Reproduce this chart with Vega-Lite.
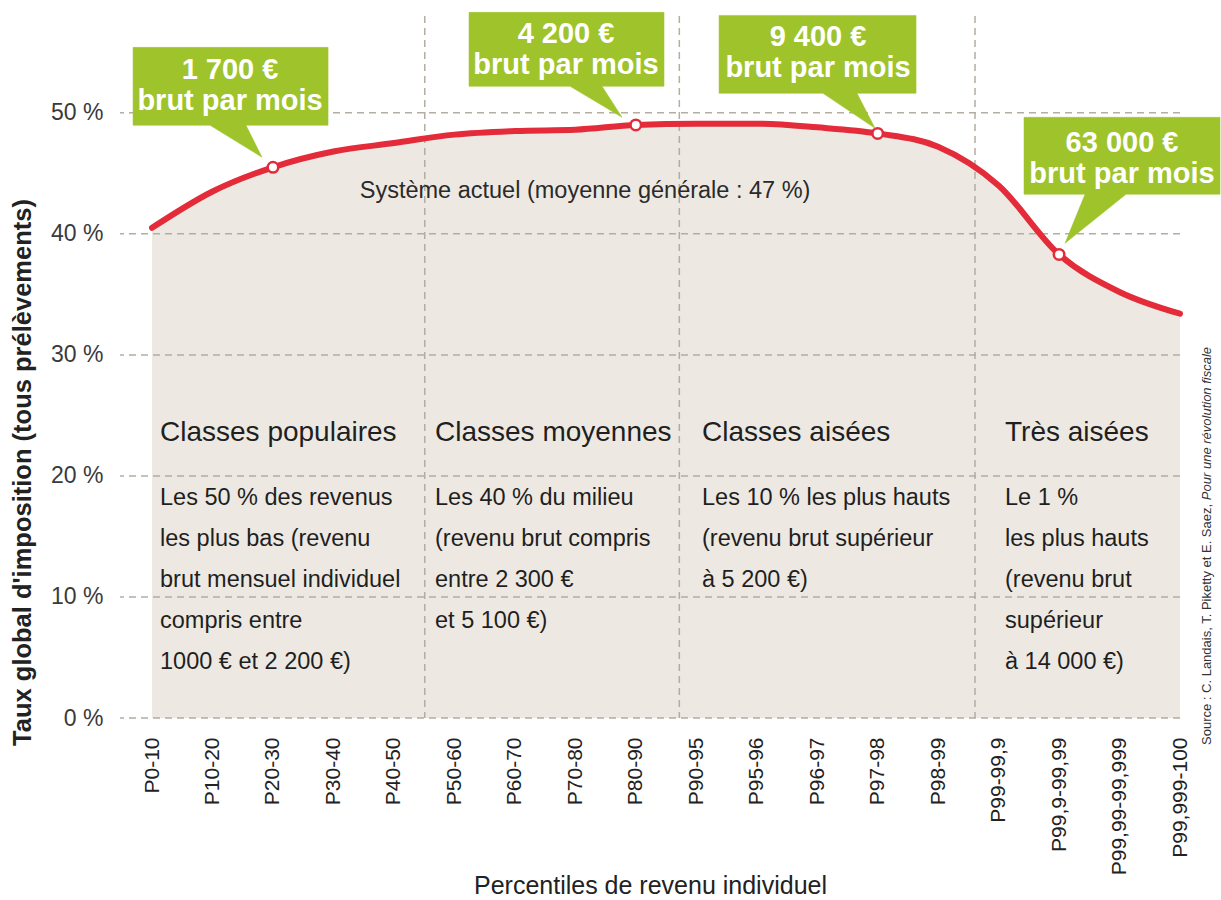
{
  "$schema": "https://vega.github.io/schema/vega-lite/v6.json",
  "width": 1060,
  "height": 702,
  "autosize": {"type": "none"},
  "padding": {"left": 120, "top": 16, "right": 41, "bottom": 182},
  "background": "white",
  "config": {"view": {"stroke": null}, "font": "Liberation Sans"},
  "datasets": {
    "series": [
      {"i": 0, "p": "P0-10", "taux": 40.5, "repere": false},
      {"i": 1, "p": "P10-20", "taux": 43.5, "repere": false},
      {"i": 2, "p": "P20-30", "taux": 45.5, "repere": true},
      {"i": 3, "p": "P30-40", "taux": 46.8, "repere": false},
      {"i": 4, "p": "P40-50", "taux": 47.5, "repere": false},
      {"i": 5, "p": "P50-60", "taux": 48.2, "repere": false},
      {"i": 6, "p": "P60-70", "taux": 48.5, "repere": false},
      {"i": 7, "p": "P70-80", "taux": 48.6, "repere": false},
      {"i": 8, "p": "P80-90", "taux": 49.0, "repere": true},
      {"i": 9, "p": "P90-95", "taux": 49.1, "repere": false},
      {"i": 10, "p": "P95-96", "taux": 49.1, "repere": false},
      {"i": 11, "p": "P96-97", "taux": 48.8, "repere": false},
      {"i": 12, "p": "P97-98", "taux": 48.3, "repere": true},
      {"i": 13, "p": "P98-99", "taux": 47.2, "repere": false},
      {"i": 14, "p": "P99-99,9", "taux": 44.0, "repere": false},
      {"i": 15, "p": "P99,9-99,99", "taux": 38.3, "repere": true},
      {"i": 16, "p": "P99,99-99,999", "taux": 35.2, "repere": false},
      {"i": 17, "p": "P99,999-100", "taux": 33.4, "repere": false}
    ],
    "grille": [{"taux": 0}, {"taux": 10}, {"taux": 20}, {"taux": 30}, {"taux": 40}, {"taux": 50}],
    "separateurs": [{"i": 4.51}, {"i": 8.72}, {"i": 13.61}],
    "moyenne": [{"i": 7.161, "taux": 43.52, "texte": "Système actuel (moyenne générale : 47 %)"}],
    "classes": [
      {"i": 0.132, "titre": "Classes populaires", "lignes": ["Les 50 % des revenus", "les plus bas (revenu", "brut mensuel individuel", "compris entre", "1000 € et 2 200 €)"]},
      {"i": 4.68, "titre": "Classes moyennes", "lignes": ["Les 40 % du milieu", "(revenu brut compris", "entre 2 300 €", "et 5 100 €)"]},
      {"i": 9.095, "titre": "Classes aisées", "lignes": ["Les 10 % les plus hauts", "(revenu brut supérieur", "à 5 200 €)"]},
      {"i": 14.106, "titre": "Très aisées", "lignes": ["Le 1 %", "les plus hauts", "(revenu brut", "supérieur", "à 14 000 €)"]}
    ],
    "bulles": [
      {"bulle": 1, "k": 1, "i": -0.314, "taux": 55.41},
      {"bulle": 1, "k": 2, "i": 2.911, "taux": 55.41},
      {"bulle": 1, "k": 3, "i": 2.911, "taux": 48.97},
      {"bulle": 1, "k": 4, "i": 1.554, "taux": 48.97},
      {"bulle": 1, "k": 5, "i": 1.819, "taux": 46.33},
      {"bulle": 1, "k": 6, "i": 0.959, "taux": 48.97},
      {"bulle": 1, "k": 7, "i": -0.314, "taux": 48.97},
      {"bulle": 2, "k": 1, "i": 5.242, "taux": 58.3},
      {"bulle": 2, "k": 2, "i": 8.467, "taux": 58.3},
      {"bulle": 2, "k": 3, "i": 8.467, "taux": 52.19},
      {"bulle": 2, "k": 4, "i": 7.442, "taux": 52.19},
      {"bulle": 2, "k": 5, "i": 7.772, "taux": 49.63},
      {"bulle": 2, "k": 6, "i": 6.913, "taux": 52.19},
      {"bulle": 2, "k": 7, "i": 5.242, "taux": 52.19},
      {"bulle": 3, "k": 1, "i": 9.377, "taux": 58.05},
      {"bulle": 3, "k": 2, "i": 12.635, "taux": 58.05},
      {"bulle": 3, "k": 3, "i": 12.635, "taux": 51.61},
      {"bulle": 3, "k": 4, "i": 11.659, "taux": 51.61},
      {"bulle": 3, "k": 5, "i": 11.957, "taux": 48.72},
      {"bulle": 3, "k": 6, "i": 11.096, "taux": 51.61},
      {"bulle": 3, "k": 7, "i": 9.377, "taux": 51.61},
      {"bulle": 4, "k": 1, "i": 14.42, "taux": 49.63},
      {"bulle": 4, "k": 2, "i": 17.662, "taux": 49.63},
      {"bulle": 4, "k": 3, "i": 17.662, "taux": 43.27},
      {"bulle": 4, "k": 4, "i": 16.107, "taux": 43.27},
      {"bulle": 4, "k": 5, "i": 15.098, "taux": 39.22},
      {"bulle": 4, "k": 6, "i": 15.429, "taux": 43.27},
      {"bulle": 4, "k": 7, "i": 14.42, "taux": 43.27}
    ],
    "bulle_textes": [
      {"bulle": 1, "i": 1.29, "taux": 53.51, "lignes": ["1 700 €", "brut par mois"]},
      {"bulle": 2, "i": 6.846, "taux": 56.53, "lignes": ["4 200 €", "brut par mois"]},
      {"bulle": 3, "i": 11.014, "taux": 56.29, "lignes": ["9 400 €", "brut par mois"]},
      {"bulle": 4, "i": 16.041, "taux": 47.48, "lignes": ["63 000 €", "brut par mois"]}
    ],
    "source": [
      {"i": 17.446, "taux": -2.23, "texte": "Source : C. Landais, T. Piketty et E. Saez,", "italique": false},
      {"i": 17.446, "taux": 18.0, "texte": "Pour une révolution fiscale", "italique": true}
    ]
  },
  "layer": [
    {
      "data": {"name": "series"},
      "mark": {"type": "area", "interpolate": "monotone", "color": "#ede9e2"},
      "encoding": {
        "x": {
          "field": "i", "type": "quantitative",
          "scale": {"domain": [-0.53, 17], "nice": false, "zero": false},
          "axis": {
            "title": "Percentiles de revenu individuel",
            "values": [0,1,2,3,4,5,6,7,8,9,10,11,12,13,14,15,16,17],
            "labelExpr": "['P0-10','P10-20','P20-30','P30-40','P40-50','P50-60','P60-70','P70-80','P80-90','P90-95','P95-96','P96-97','P97-98','P98-99','P99-99,9','P99,9-99,99','P99,99-99,999','P99,999-100'][datum.value]",
            "labelAngle": -90, "labelAlign": "right", "labelBaseline": "middle",
            "labelFlush": false, "labelOverlap": false, "labelBound": false,
            "domain": false, "ticks": false, "grid": false,
            "labelPadding": 19, "labelFontSize": 21, "labelColor": "#222222",
            "titleFontSize": 25, "titleFontWeight": "normal", "titleColor": "#222222",
            "titleY": 167, "titleBaseline": "middle"
          }
        },
        "y": {
          "field": "taux", "type": "quantitative",
          "scale": {"domain": [0, 58], "nice": false},
          "axis": {
            "title": "Taux global d'imposition (tous prélèvements)",
            "values": [0, 10, 20, 30, 40, 50],
            "labelExpr": "datum.value + ' %'",
            "domain": false, "ticks": false, "grid": false,
            "labelPadding": 17, "labelFontSize": 23, "labelColor": "#3a3a3a",
            "titleFontSize": 25.5, "titleFontWeight": "bold", "titleColor": "#222222",
            "titleX": -98, "titleY": 456, "titleAlign": "center", "titleBaseline": "middle", "titleAngle": 270
          }
        }
      }
    },
    {
      "data": {"name": "grille"},
      "mark": {"type": "rule", "color": "#b3ada2", "strokeWidth": 1.5, "strokeDash": [7, 5]},
      "encoding": {"y": {"field": "taux", "type": "quantitative"}}
    },
    {
      "data": {"name": "separateurs"},
      "mark": {"type": "rule", "color": "#b3ada2", "strokeWidth": 1.5, "strokeDash": [7, 5]},
      "encoding": {"x": {"field": "i", "type": "quantitative"}}
    },
    {
      "data": {"name": "moyenne"},
      "mark": {"type": "text", "align": "center", "baseline": "middle", "fontSize": 23.5, "color": "#2a2a2a"},
      "encoding": {
        "x": {"field": "i", "type": "quantitative"},
        "y": {"field": "taux", "type": "quantitative"},
        "text": {"field": "texte"}
      }
    },
    {
      "data": {"name": "classes"},
      "mark": {"type": "text", "align": "left", "baseline": "middle", "fontSize": 28, "color": "#1f1f1f"},
      "encoding": {
        "x": {"field": "i", "type": "quantitative"},
        "y": {"datum": 23.53, "type": "quantitative"},
        "text": {"field": "titre"}
      }
    },
    {
      "data": {"name": "classes"},
      "mark": {"type": "text", "align": "left", "baseline": "alphabetic", "fontSize": 23.5, "lineHeight": 41, "color": "#1f1f1f"},
      "encoding": {
        "x": {"field": "i", "type": "quantitative"},
        "y": {"datum": 17.59, "type": "quantitative"},
        "text": {"field": "lignes"}
      }
    },
    {
      "data": {"name": "series"},
      "mark": {"type": "line", "interpolate": "monotone", "color": "#e32b3a", "strokeWidth": 6, "strokeCap": "round"},
      "encoding": {
        "x": {"field": "i", "type": "quantitative"},
        "y": {"field": "taux", "type": "quantitative"}
      }
    },
    {
      "data": {"name": "series"},
      "transform": [{"filter": "datum.repere"}],
      "mark": {"type": "circle", "fill": "white", "stroke": "#e32b3a", "strokeWidth": 2.5, "size": 110, "opacity": 1},
      "encoding": {
        "x": {"field": "i", "type": "quantitative"},
        "y": {"field": "taux", "type": "quantitative"}
      }
    },
    {
      "data": {"name": "bulles"},
      "mark": {"type": "line", "interpolate": "linear-closed", "fill": "#9fc42b", "stroke": "#9fc42b", "strokeWidth": 0.5},
      "encoding": {
        "x": {"field": "i", "type": "quantitative"},
        "y": {"field": "taux", "type": "quantitative"},
        "detail": {"field": "bulle", "type": "nominal"},
        "order": {"field": "k", "type": "quantitative"}
      }
    },
    {
      "data": {"name": "bulle_textes"},
      "mark": {"type": "text", "align": "center", "baseline": "middle", "fontSize": 29, "fontWeight": "bold", "lineHeight": 31, "color": "white"},
      "encoding": {
        "x": {"field": "i", "type": "quantitative"},
        "y": {"field": "taux", "type": "quantitative"},
        "text": {"field": "lignes"}
      }
    },
    {
      "data": {"name": "source"},
      "transform": [{"filter": "!datum.italique"}],
      "mark": {"type": "text", "align": "left", "baseline": "middle", "angle": 270, "fontSize": 13, "color": "#333333"},
      "encoding": {
        "x": {"field": "i", "type": "quantitative"},
        "y": {"field": "taux", "type": "quantitative"},
        "text": {"field": "texte"}
      }
    },
    {
      "data": {"name": "source"},
      "transform": [{"filter": "datum.italique"}],
      "mark": {"type": "text", "align": "left", "baseline": "middle", "angle": 270, "fontSize": 13, "fontStyle": "italic", "color": "#333333"},
      "encoding": {
        "x": {"field": "i", "type": "quantitative"},
        "y": {"field": "taux", "type": "quantitative"},
        "text": {"field": "texte"}
      }
    }
  ]
}
